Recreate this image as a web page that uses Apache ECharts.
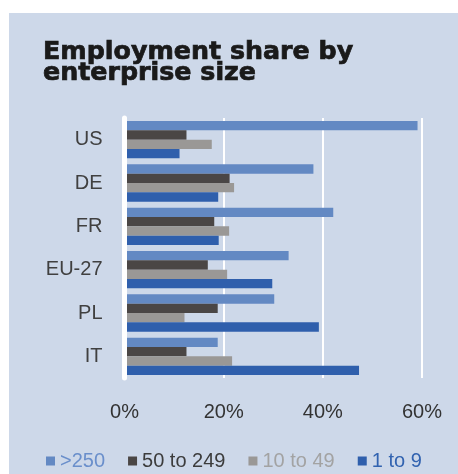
<!DOCTYPE html>
<html><head><meta charset="utf-8">
<script src="https://cdn.jsdelivr.net/npm/echarts@6/dist/echarts.min.js"></script>
<style>html,body{margin:0;padding:0;background:#fff}#c{width:458px;height:474px}</style>
</head><body><div id="c"></div>
<script>
const categories = ['US', 'DE', 'FR', 'EU-27', 'PL', 'IT'];
const seriesNames = ['>250', '50 to 249', '10 to 49', '1 to 9'];
const large = [59.1, 38.1, 42.1, 33.1, 30.2, 18.8];
const medium = [12.5, 21.2, 18.1, 16.8, 18.8, 12.5];
const small = [17.6, 22.1, 21.1, 20.7, 12.1, 21.7];
const micro = [11.1, 18.9, 19.0, 29.8, 39.2, 47.3];
const xTicks = [0, 20, 40, 60];
const titleText = 'Employment share by\nenterprise size';

const colors = ['#6389C3', '#4A4645', '#9A9896', '#2F5FAC'];
const legendTextColors = ['#6A8FCB', '#3C3C3C', '#A3A3A3', '#3263B0'];
const values = [large, medium, small, micro];

const chart = echarts.init(document.getElementById('c'), null, {renderer: 'canvas'});
chart.setOption({
  animation: false,
  backgroundColor: '#fff',
  graphic: [{
    type: 'rect', z: -10, silent: true,
    shape: {x: 9, y: 13, width: 449, height: 461},
    style: {fill: '#CDD8E9'}
  }, {
    type: 'text', silent: true, z: 10,
    x: 43, y: 42, scaleX: 1.055, scaleY: 1,
    style: {
      text: titleText,
      fontFamily: 'DejaVu Sans', fontWeight: 'bold', fontSize: 24, lineHeight: 21,
      fill: '#1a1a1a', stroke: '#1a1a1a', lineWidth: 0.7,
      align: 'left', verticalAlign: 'top'
    }
  }],
  legend: {
    left: 41, top: 446,
    itemWidth: 9, itemHeight: 9, itemGap: 23,
    icon: 'rect',
    textStyle: {fontFamily: 'Liberation Sans', fontSize: 20},
    data: seriesNames.map((n, i) => ({name: n, textStyle: {color: legendTextColors[i]}}))
  },
  grid: {left: 124.5, right: 36, top: 118, bottom: 96, containLabel: false},
  xAxis: {
    type: 'value', min: 0, max: 60, interval: 20,
    axisLine: {show: false}, axisTick: {show: false},
    splitLine: {show: true, lineStyle: {color: '#ffffff', width: 2}},
    axisLabel: {
      margin: 24, fontFamily: 'Liberation Sans', fontSize: 20, color: '#333333',
      formatter: v => xTicks.includes(v) ? v + '%' : ''
    }
  },
  yAxis: {
    type: 'category', data: categories, inverse: true, z: 3,
    axisLine: {show: true, lineStyle: {color: '#ffffff', width: 5}},
    axisTick: {show: false},
    axisLabel: {margin: 22, fontFamily: 'Liberation Sans', fontSize: 20, color: '#404040'}
  },
  series: seriesNames.map((n, i) => ({
    name: n, type: 'bar', data: values[i],
    barGap: 0, barCategoryGap: '14%',
    itemStyle: {color: colors[i]}
  }))
});
</script></body></html>
